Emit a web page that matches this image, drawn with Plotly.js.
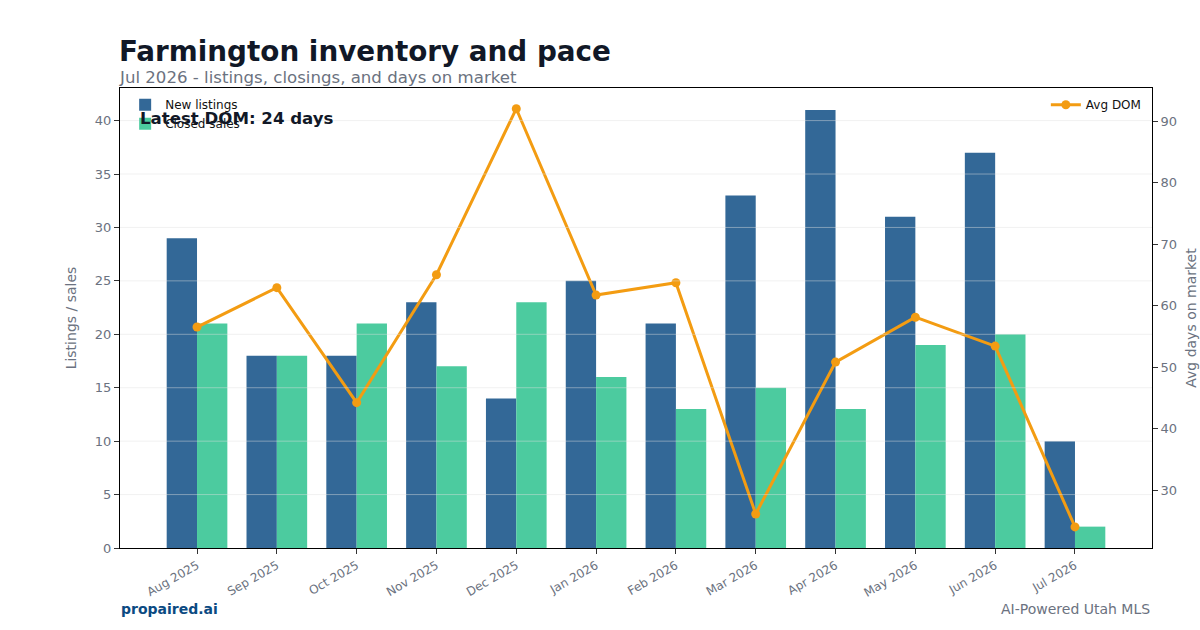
<!DOCTYPE html>
<html>
<head>
<meta charset="utf-8">
<script src="https://cdn.plot.ly/plotly-3.0.1.min.js"></script>
<style>html,body{margin:0;padding:0;background:#fff;}#chart{width:1200px;height:630px;}</style>
</head>
<body>
<div id="chart"></div>
<script>
var months = ["Aug 2025","Sep 2025","Oct 2025","Nov 2025","Dec 2025","Jan 2026","Feb 2026","Mar 2026","Apr 2026","May 2026","Jun 2026","Jul 2026"];
var newListings = [29,18,18,23,14,25,21,33,41,31,37,10];
var closedSales = [21,18,21,17,23,16,13,15,13,19,20,2];
var avgDom = [56.5,62.9,44.2,65.0,92.0,61.7,63.7,26.1,50.8,58.1,53.4,24.0];
var leftTicks = [0,5,10,15,20,25,30,35,40];
var rightTicks = [30,40,50,60,70,80,90];
var latestDom = avgDom[avgDom.length-1];

var font = "DejaVu Sans, sans-serif";
var gray = "#6b7280";

var traces = [
  {type:"bar", name:"New listings", x:months, y:newListings, marker:{color:"#336897"}, legend:"legend", yaxis:"y"},
  {type:"bar", name:"Closed sales", x:months, y:closedSales, marker:{color:"#4ccb9f"}, legend:"legend", yaxis:"y"},
  {type:"scatter", mode:"lines+markers", name:"Avg DOM", x:months, y:avgDom, yaxis:"y2",
   line:{color:"#f39c12", width:3}, marker:{color:"#f39c12", size:9}, legend:"legend2"}
];

var gridShapes = leftTicks.filter(function(v){return v>0;}).map(function(v){
  return {type:"line", xref:"paper", yref:"y", x0:0, x1:1, y0:v, y1:v, layer:"above",
          line:{color:"rgba(225,225,225,0.45)", width:1}};
});

var layout = {
  width:1200, height:630,
  margin:{l:120, r:48, t:88, b:82},
  paper_bgcolor:"#fff", plot_bgcolor:"#fff",
  font:{family:font, color:gray, size:13},
  barmode:"group", bargap:0.24, bargroupgap:0,
  showlegend:true,
  shapes:gridShapes,
  xaxis:{type:"category", range:[-0.965, 11.965], tickangle:-30, showgrid:false,
    ticks:"outside", ticklen:5, tickcolor:"#333", showline:true, linecolor:"#000", linewidth:1, mirror:true,
    tickfont:{size:12, color:gray}},
  yaxis:{range:[0,43.05], tickvals:leftTicks, showgrid:false,
    ticks:"outside", ticklen:5, tickcolor:"#333", showline:true, linecolor:"#000", linewidth:1, mirror:true,
    zeroline:false, tickfont:{size:13, color:gray},
    title:{text:"Listings / sales", font:{size:14, color:gray}, standoff:14}},
  yaxis2:{overlaying:"y", side:"right", range:[20.57,95.37], tickvals:rightTicks, showgrid:false,
    ticks:"outside", ticklen:5, tickcolor:"#333", zeroline:false, tickfont:{size:13, color:gray},
    title:{text:"Avg days on market", font:{size:14, color:gray}, standoff:10}},
  legend:{x:0.005, y:0.995, xanchor:"left", yanchor:"top", bgcolor:"rgba(255,255,255,0)", font:{size:12, color:"#111"}, tracegroupgap:2},
  legend2:{x:0.995, y:0.995, xanchor:"right", yanchor:"top", bgcolor:"rgba(255,255,255,0)", font:{size:12, color:"#111"}},
  annotations:[
    {xref:"paper", yref:"paper", x:0.017, y:0.933, xanchor:"left", yanchor:"middle", showarrow:false,
     text:"<b>Latest DOM: " + latestDom + " days</b>", font:{size:16.6, color:"#111827"}},
    {xref:"paper", yref:"paper", x:-0.003, y:1.08, xanchor:"left", yanchor:"middle", showarrow:false,
     text:"<b>Farmington inventory and pace</b>", font:{size:27.8, color:"#111827"}},
    {xref:"paper", yref:"paper", x:-0.003, y:1.022, xanchor:"left", yanchor:"middle", showarrow:false,
     text:"Jul 2026 - listings, closings, and days on market", font:{size:16.6, color:gray}},
    {xref:"paper", yref:"paper", x:-0.001, y:-0.133, xanchor:"left", yanchor:"middle", showarrow:false,
     text:"<b>propaired.ai</b>", font:{size:14, color:"#0b4a82"}},
    {xref:"paper", yref:"paper", x:1.0, y:-0.133, xanchor:"right", yanchor:"middle", showarrow:false,
     text:"AI-Powered Utah MLS", font:{size:14, color:gray}}
  ]
};

Plotly.newPlot("chart", traces, layout, {displayModeBar:false, staticPlot:true});
</script>
</body>
</html>
